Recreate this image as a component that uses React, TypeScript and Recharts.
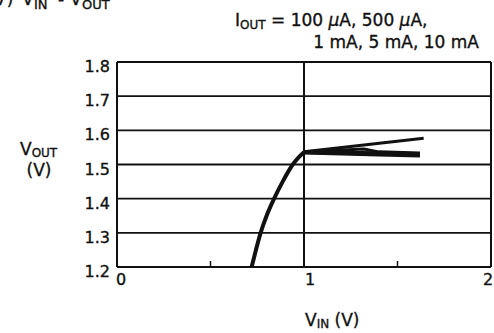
import React from 'react';
import { LineChart, Line, XAxis, YAxis, CartesianGrid, ReferenceLine } from 'recharts';

// tick values
const xTicks = [0, 0.5, 1, 1.5, 2];
const xLabels = ['0', '', '1', '', '2'];
const yTicks = [1.2, 1.3, 1.4, 1.5, 1.6, 1.7, 1.8];

// common rising part below VIN = 1 V
const riseVin = [0.72, 0.743, 0.768, 0.8, 0.84, 0.886, 0.94, 0.975, 1.0];
const riseVout = [1.2, 1.25, 1.3, 1.35, 1.4, 1.45, 1.5, 1.523, 1.536];

// regulated part, one per IOUT
const seriesNames = ['100 µA', '500 µA', '1 mA', '5 mA', '10 mA'];
const vin100u = [1.0, 1.64];
const vout100u = [1.537, 1.577];
const vin500u = [1.0, 1.32, 1.4, 1.62];
const vout500u = [1.537, 1.545, 1.537, 1.534];
const vin1m = [1.0, 1.32, 1.62];
const vout1m = [1.536, 1.535, 1.531];
const vin5m = [1.0, 1.36, 1.62];
const vout5m = [1.535, 1.531, 1.528];
const vin10m = [1.0, 1.4, 1.62];
const vout10m = [1.534, 1.528, 1.525];

const toPoints = (xs: number[], ys: number[]) => xs.map((x, i) => ({ x, y: ys[i] }));

const riseData = toPoints(riseVin, riseVout);
const flatData = [
  toPoints(vin100u, vout100u),
  toPoints(vin500u, vout500u),
  toPoints(vin1m, vout1m),
  toPoints(vin5m, vout5m),
  toPoints(vin10m, vout10m),
];

const INK = '#111';
const FONT = '"DejaVu Sans", sans-serif';
// thin outline makes the glyphs a little heavier, like the scan
const HEAVY = { stroke: INK, strokeWidth: 0.35 };

const YTick = (props: any) => {
  const { x, y, payload } = props;
  return (
    <text x={x - 7} y={y + 10} textAnchor="end" fontSize={16} fontFamily={FONT} fill={INK} {...HEAVY}>
      {payload.value.toFixed(1)}
    </text>
  );
};

const XTick = (props: any) => {
  const { x, y, payload } = props;
  const i = xTicks.indexOf(payload.value);
  const label = xLabels[i];
  if (!label) {
    // short minor tick pointing into the plot
    return <line x1={x} x2={x} y1={y} y2={y - 6} stroke={INK} strokeWidth={1.5} />;
  }
  const dx = payload.value === 0 ? 4 : payload.value === 1 ? 6 : -2;
  return (
    <text x={x + dx} y={y + 18} textAnchor="middle" fontSize={16} fontFamily={FONT} fill={INK} {...HEAVY}>
      {label}
    </text>
  );
};

export default function App() {
  return (
    <div style={{ position: 'absolute', left: 0, top: 0, width: 494, height: 333, background: '#fff', overflow: 'hidden' }}>
      <LineChart width={494} height={333} margin={{ top: 62, right: 3, bottom: 0, left: 0 }}>
        <CartesianGrid horizontal vertical={false} stroke={INK} strokeWidth={1.8} />
        <XAxis
          type="number"
          dataKey="x"
          domain={[0, 2]}
          ticks={xTicks}
          height={66}
          tickSize={0}
          tickMargin={0}
          tickLine={false}
          axisLine={{ stroke: INK, strokeWidth: 2 }}
          tick={<XTick />}
          allowDataOverflow
        />
        <YAxis
          type="number"
          dataKey="y"
          domain={[1.2, 1.8]}
          ticks={yTicks}
          width={117}
          tickSize={0}
          tickMargin={0}
          tickLine={false}
          axisLine={{ stroke: INK, strokeWidth: 2 }}
          tick={<YTick />}
          allowDataOverflow
        />
        <ReferenceLine x={1} stroke={INK} strokeWidth={2} />
        <ReferenceLine x={2} stroke={INK} strokeWidth={2} />
        <ReferenceLine y={1.8} stroke={INK} strokeWidth={2} />
        <Line
          data={riseData}
          dataKey="y"
          type="monotone"
          stroke={INK}
          strokeWidth={4}
          dot={false}
          isAnimationActive={false}
        />
        {flatData.map((d, i) => (
          <Line
            key={seriesNames[i]}
            name={seriesNames[i]}
            data={d}
            dataKey="y"
            type="linear"
            stroke={INK}
            strokeWidth={3}
            dot={false}
            isAnimationActive={false}
          />
        ))}
      </LineChart>
      <svg width={494} height={333} style={{ position: 'absolute', left: 0, top: 0, pointerEvents: 'none' }}>
        <g fontFamily={FONT} fill={INK} {...HEAVY}>
          {/* figure heading, cut off at the top edge as in the scan */}
          <text x={-4} y={5} fontSize={17}>7)</text>
          <text x={22} y={5} fontSize={17}>V</text>
          <text x={34} y={9} fontSize={13}>IN</text>
          <text x={58} y={5} fontSize={17}>-</text>
          <text x={70} y={5} fontSize={17}>V</text>
          <text x={82} y={9} fontSize={13}>OUT</text>

          <text x={235} y={26} fontSize={17}>
            I<tspan fontSize={12} dy={3}>OUT</tspan>
            <tspan dy={-3}> = 100 </tspan>
            <tspan fontStyle="italic">µ</tspan>A, 500 <tspan fontStyle="italic">µ</tspan>A,
          </text>
          <text x={479} y={48} fontSize={17} textAnchor="end">1 mA, 5 mA, 10 mA</text>

          <text x={20} y={155} fontSize={17}>
            V<tspan fontSize={12} dy={2}>OUT</tspan>
          </text>
          <text x={39} y={176} fontSize={17} textAnchor="middle">(V)</text>

          <text x={305} y={326} fontSize={17}>
            V<tspan fontSize={12} dy={2}>IN</tspan>
            <tspan dy={-2}> (V)</tspan>
          </text>
        </g>
      </svg>
    </div>
  );
}
